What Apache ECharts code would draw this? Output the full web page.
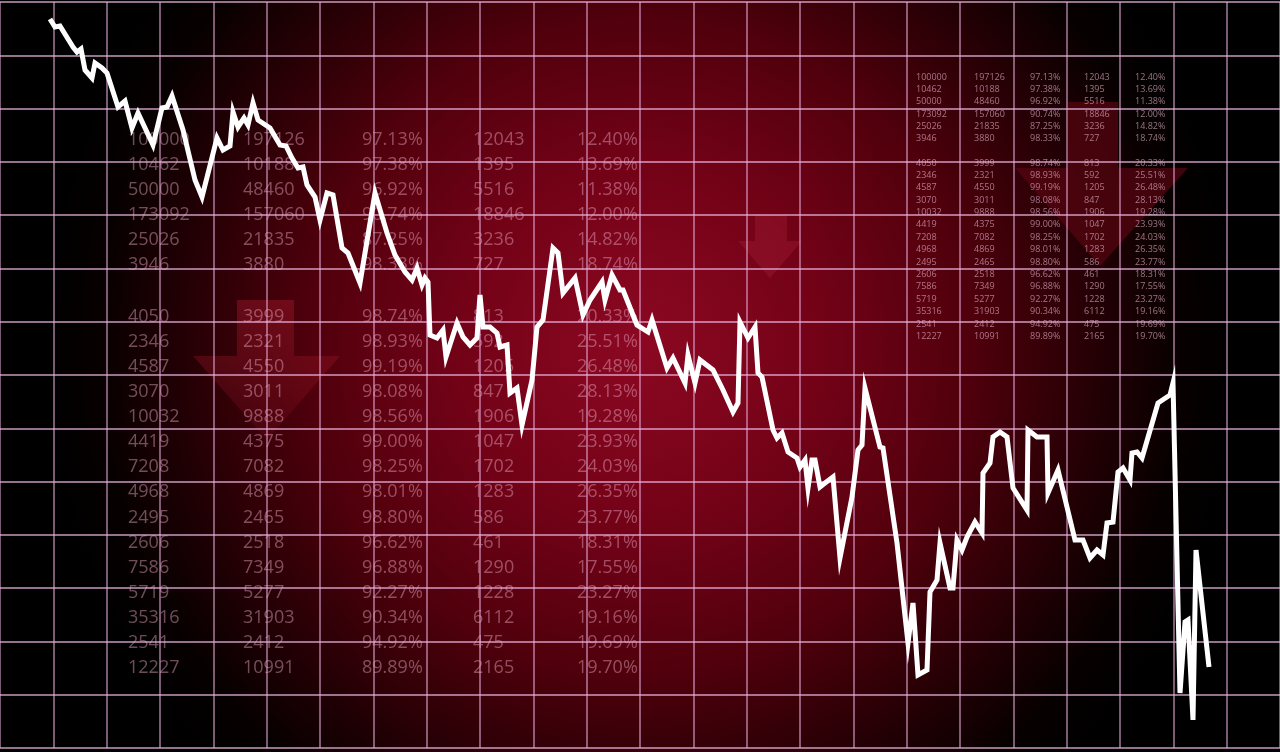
<!DOCTYPE html>
<html>
<head>
<meta charset="utf-8">
<script src="https://cdn.jsdelivr.net/npm/echarts@6/dist/echarts.min.js"></script>
<style>
html,body{margin:0;padding:0;background:#000;}
#chart{width:1280px;height:752px;}
</style>
</head>
<body>
<div id="chart"></div>
<script>
// ---- Data: index line (time position, index level) ----
const timeX = [50,55,60,73,77,81,85,92,95,102,107,118,125,132,138,153,162,167,172,183,195,202,217,223,230,233,238,244,248,253,258,270,280,286,292,298,303,307,315,320,327,333,342,348,360,375,387,395,405,412,417,422,425,428,430,437,443,446,457,463,470,477,480,483,490,497,500,507,510,517,522,532,537,543,553,558,563,575,583,590,602,605,612,620,623,637,648,652,667,673,685,688,695,700,713,723,733,738,740,748,755,758,762,773,777,782,788,797,800,805,808,812,815,820,825,833,840,852,858,862,865,880,883,897,908,913,918,927,930,937,940,950,953,957,962,967,975,982,983,990,993,1000,1007,1013,1027,1028,1037,1047,1048,1058,1075,1083,1090,1097,1103,1107,1113,1118,1123,1130,1132,1137,1142,1158,1170,1173,1180,1185,1188,1193,1196,1209];
const indexLevel = [729,721,722,701,696,699,678,670,685,680,675,641,647,620,635,603,640,641,652,618,568,551,610,598,602,636,621,630,623,645,628,620,603,602,590,580,581,563,551,528,555,553,500,495,465,555,515,493,476,468,480,463,470,466,413,410,418,391,425,411,403,410,453,421,421,415,401,403,355,360,323,368,421,428,500,495,455,470,433,448,466,448,473,458,458,423,416,428,380,390,365,393,365,388,378,358,336,345,426,410,421,375,371,318,310,315,296,290,281,288,260,288,288,261,265,271,190,251,298,303,360,301,300,205,105,145,73,78,156,168,205,160,160,208,198,211,226,215,275,285,311,316,311,260,238,318,311,311,255,278,208,208,190,198,193,225,226,276,280,268,295,296,290,345,353,365,55,126,128,28,198,81];

// ---- Data: ticker tables ----
const tableTop = [
  ['100000','197126','97.13%','12043','12.40%'],
  ['10462','10188','97.38%','1395','13.69%'],
  ['50000','48460','96.92%','5516','11.38%'],
  ['173092','157060','90.74%','18846','12.00%'],
  ['25026','21835','87.25%','3236','14.82%'],
  ['3946','3880','98.33%','727','18.74%']
];
const tableBottom = [
  ['4050','3999','98.74%','813','20.33%'],
  ['2346','2321','98.93%','592','25.51%'],
  ['4587','4550','99.19%','1205','26.48%'],
  ['3070','3011','98.08%','847','28.13%'],
  ['10032','9888','98.56%','1906','19.28%'],
  ['4419','4375','99.00%','1047','23.93%'],
  ['7208','7082','98.25%','1702','24.03%'],
  ['4968','4869','98.01%','1283','26.35%'],
  ['2495','2465','98.80%','586','23.77%'],
  ['2606','2518','96.62%','461','18.31%'],
  ['7586','7349','96.88%','1290','17.55%'],
  ['5719','5277','92.27%','1228','23.27%'],
  ['35316','31903','90.34%','6112','19.16%'],
  ['2541','2412','94.92%','475','19.69%'],
  ['12227','10991','89.89%','2165','19.70%']
];

// ---- Layout / style ----
const W = 1280, H = 752;
const vGridColor = 'rgba(235,175,225,0.52)';
const hGridColor = 'rgba(240,185,230,0.62)';
const bigTable = {cols:[128,243,362,473,577], top:140, bottom:317, step:25.05, size:18, color:'rgba(235,170,200,0.45)'};
const smallTable = {cols:[916,974,1030,1084,1135], top:77, bottom:163, step:12.38, size:9, color:'rgba(235,185,210,0.62)'};

function tableTexts(cfg){
  const out = [];
  const add = (rows, y0) => rows.forEach((row, r) => row.forEach((txt, c) => {
    out.push({type:'text', z:3, silent:true,
      style:{x:cfg.cols[c], y:y0 + r*cfg.step, text:txt, fill:cfg.color,
        font:'400 '+cfg.size+'px "Open Sans", sans-serif', textVerticalAlign:'middle', verticalAlign:'middle'}});
  }));
  add(tableTop, cfg.top);
  add(tableBottom, cfg.bottom);
  return out;
}

function arrow(shaftL, shaftR, top, headY, headL, headR, tipX, tipY, fill){
  return {type:'polygon', z:-5, silent:true,
    shape:{points:[[shaftL,top],[shaftR,top],[shaftR,headY],[headR,headY],[tipX,tipY],[headL,headY],[shaftL,headY]]},
    style:{fill:fill}};
}

const chart = echarts.init(document.getElementById('chart'), null, {renderer:'canvas'});
const option = {
  animation:false,
  backgroundColor:'#000',
  grid:{left:0,right:0,top:2,bottom:4,containLabel:false},
  xAxis:[
    {type:'value',min:0,max:24,interval:1,axisLine:{show:false},axisTick:{show:false},axisLabel:{show:false},
     splitLine:{show:true,lineStyle:{color:vGridColor,width:2}}},
    {type:'value',min:0,max:1280,show:false}
  ],
  yAxis:[
    {type:'value',min:0,max:14,interval:1,axisLine:{show:false},axisTick:{show:false},axisLabel:{show:false},
     splitLine:{show:true,lineStyle:{color:hGridColor,width:2}}},
    {type:'value',min:0,max:746,show:false}
  ],
  graphic:[
    {type:'rect', z:-10, silent:true, shape:{x:0,y:0,width:W,height:H},
     style:{fill:new echarts.graphic.RadialGradient(640,345,600,[
       {offset:0,color:'rgb(140,8,34)'},
       {offset:0.3,color:'rgb(115,2,23)'},
       {offset:0.55,color:'rgb(80,0,12)'},
       {offset:0.75,color:'rgb(38,0,5)'},
       {offset:0.9,color:'rgb(8,0,0)'},
       {offset:1,color:'rgb(0,0,0)'}], true)}},
    arrow(237,294,300,356,193,340,267,440,
      new echarts.graphic.LinearGradient(0,300,0,440,[{offset:0,color:'rgba(170,25,45,0.42)'},{offset:1,color:'rgba(170,25,45,0.12)'}],true)),
    arrow(755,787,215,241,738,802,770,278,'rgba(170,35,60,0.32)'),
    arrow(1068,1118,102,168,1015,1188,1100,266,'rgba(85,4,16,0.75)')
  ].concat(tableTexts(bigTable), tableTexts(smallTable)),
  series:[{
    type:'line', xAxisIndex:1, yAxisIndex:1, z:10,
    showSymbol:false, smooth:false,
    lineStyle:{color:'#ffffff',width:5,join:'miter',cap:'butt'},
    data: timeX.map((t,i)=>[t, indexLevel[i]])
  }]
};
chart.setOption(option);
</script>
</body>
</html>
